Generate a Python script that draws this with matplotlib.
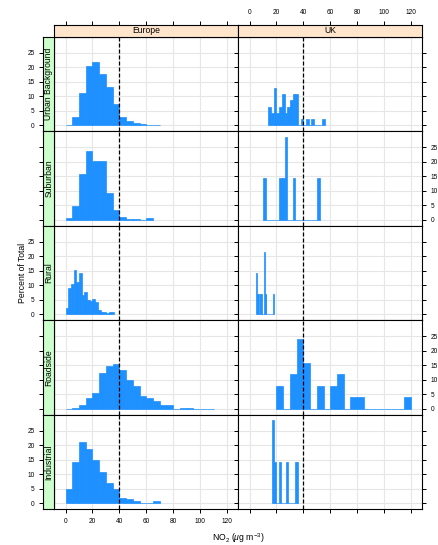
import numpy as np
import matplotlib
matplotlib.use("Agg")
import matplotlib.pyplot as plt

plt.rcParams['font.family'] = ['Liberation Sans', 'DejaVu Sans']
plt.rcParams['mathtext.fontset'] = 'custom'
plt.rcParams['mathtext.rm'] = 'Liberation Sans'
plt.rcParams['mathtext.it'] = 'Liberation Sans:italic'

regions = ["Europe", "UK"]
site_types = ["Urban Background", "Suburban", "Rural", "Roadside", "Industrial"]

x_ticks = [0, 20, 40, 60, 80, 100, 120]
y_ticks = [0, 5, 10, 15, 20, 25]
limit_value = 40

# each histogram: first break, bin width, percent of total per bin
eu_urban_bins = (0, 5)
eu_urban_pct = [0.3, 2.9, 11.1, 20.4, 21.8, 17.7, 13.2, 7.3, 2.9, 1.4, 0.8, 0.5, 0.2, 0.2]
uk_urban_bins = (14, 2)
uk_urban_pct = [6.5, 4.3, 13.0, 4.3, 6.5, 10.9, 4.3, 6.5, 8.7, 10.9, 10.9,
                0, 2.2, 0, 2.2, 0, 2.2, 0, 0, 0, 2.2]

eu_suburban_bins = (0, 5)
eu_suburban_pct = [0.5, 4.7, 15.8, 23.9, 20.4, 20.4, 9.4, 3.3, 0.9, 0.2, 0.2, 0.0, 0.6]
uk_suburban_bins = (10, 2)
uk_suburban_pct = [14.3, 0, 0, 0, 0, 0, 14.3, 14.3, 28.6, 0, 0, 14.3,
                   0, 0, 0, 0, 0, 0, 0, 0, 14.3]

eu_rural_bins = (0, 2)
eu_rural_pct = [2.3, 9.2, 10.6, 15.4, 11.3, 14.2, 6.8, 7.9, 5.0, 4.5, 5.4, 4.2,
                1.4, 0.8, 1.0, 0.5, 0.9, 0.9]
uk_rural_bins = (5, 0.5)
uk_rural_pct = [14.3, 7.1, 7.1, 7.1, 0, 7.1, 7.1, 7.1, 0, 0, 0, 0, 21.4, 7.1,
                7.1, 0, 0, 0, 0, 0, 0, 0, 0, 0, 0, 7.1]

eu_roadside_bins = (0, 5)
eu_roadside_pct = [0.1, 0.2, 1.4, 3.9, 5.6, 12.4, 14.8, 15.5, 13.4, 9.9, 8.0,
                   4.6, 3.9, 2.6, 1.4, 1.4, 0.1, 0.4, 0.4, 0.1, 0.1, 0.1]
uk_roadside_bins = (20, 5)
uk_roadside_pct = [8, 0, 12, 24, 16, 0, 8, 0, 8, 12, 0, 4, 4, 0, 0, 0, 0, 0, 0, 4]

eu_industrial_bins = (0, 5)
eu_industrial_pct = [4.8, 14.4, 21.3, 18.6, 15.1, 11.0, 6.9, 5.0, 1.7, 1.4, 0.7, 0, 0, 0.7]
uk_industrial_bins = (16.8, 1.3)
uk_industrial_pct = [28.6, 14.3, 0, 0, 14.3, 0, 0, 0, 14.3, 0, 0, 0, 0, 14.3, 14.3]

panels = {
    ("Urban Background", "Europe"): (eu_urban_bins, eu_urban_pct),
    ("Urban Background", "UK"): (uk_urban_bins, uk_urban_pct),
    ("Suburban", "Europe"): (eu_suburban_bins, eu_suburban_pct),
    ("Suburban", "UK"): (uk_suburban_bins, uk_suburban_pct),
    ("Rural", "Europe"): (eu_rural_bins, eu_rural_pct),
    ("Rural", "UK"): (uk_rural_bins, uk_rural_pct),
    ("Roadside", "Europe"): (eu_roadside_bins, eu_roadside_pct),
    ("Roadside", "UK"): (uk_roadside_bins, uk_roadside_pct),
    ("Industrial", "Europe"): (eu_industrial_bins, eu_industrial_pct),
    ("Industrial", "UK"): (uk_industrial_bins, uk_industrial_pct),
}

bar_col = "#1E90FF"
grid_col = "#E6E6E6"
top_strip_col = "#FFE5CC"
side_strip_col = "#CCFFCC"
xlim = (-8.4, 128.4)
ylim = (-2.0, 30.6)
tick_size = 4.7
label_size = 6.2

W, H = 439, 545
fig = plt.figure(figsize=(W / 100, H / 100), dpi=100)


def rect(x0, y0, x1, y1):
    # pixel box (top-left origin) -> figure fraction
    return [x0 / W, 1 - y1 / H, (x1 - x0) / W, (y1 - y0) / H]


col_edges = [54.3, 238.3, 422.3]
row_edges = [36.7 + 94.5 * i for i in range(6)]
tick_kw = dict(direction="out", length=3.2, width=0.7, pad=3, labelsize=tick_size)

for r, site in enumerate(site_types):
    for c, region in enumerate(regions):
        ax = fig.add_axes(rect(col_edges[c], row_edges[r], col_edges[c + 1], row_edges[r + 1]))
        (start, width), pct = panels[(site, region)]
        edges = start + width * np.arange(len(pct))
        ax.bar(edges, pct, width=width, align="edge", color=bar_col,
               edgecolor=bar_col, linewidth=0.5, zorder=2)
        ax.axvline(limit_value, color="black", lw=0.9, ls=(0, (3.2, 1.6)), zorder=3)
        ax.set_xlim(xlim)
        ax.set_ylim(ylim)
        ax.set_xticks(x_ticks)
        ax.set_yticks(y_ticks)
        ax.grid(color=grid_col, lw=0.8, zorder=0)
        ax.set_axisbelow(True)
        for sp in ax.spines.values():
            sp.set_linewidth(0.8)
        ax.tick_params(axis="both", length=0, labelleft=False, labelbottom=False)
        if c == 1:
            ax.tick_params(axis="y", right=True, **tick_kw)
            ax.tick_params(axis="y", labelright=(r % 2 == 1))
        if r == len(site_types) - 1:
            ax.tick_params(axis="x", bottom=True, **tick_kw)
            ax.tick_params(axis="x", labelbottom=(c == 0))

        # region strip above the top row
        if r == 0:
            sx = fig.add_axes(rect(col_edges[c], 25, col_edges[c + 1], row_edges[0]))
            sx.set_facecolor(top_strip_col)
            sx.set_xlim(xlim)
            sx.set_ylim(0, 1)
            sx.set_xticks(x_ticks)
            sx.set_yticks([])
            sx.tick_params(axis="x", bottom=False, labelbottom=False, top=True, **tick_kw)
            sx.tick_params(axis="x", labeltop=(c == 1))
            for sp in sx.spines.values():
                sp.set_linewidth(0.8)
            sx.text(0.5, 0.5, region, transform=sx.transAxes, ha="center",
                    va="center", fontsize=label_size)

        # site type strip left of the first column
        if c == 0:
            sy = fig.add_axes(rect(43.3, row_edges[r], col_edges[0], row_edges[r + 1]))
            sy.set_facecolor(side_strip_col)
            sy.set_ylim(ylim)
            sy.set_xlim(0, 1)
            sy.set_yticks(y_ticks)
            sy.set_xticks([])
            sy.tick_params(axis="y", left=True, **tick_kw)
            sy.tick_params(axis="y", labelleft=(r % 2 == 0))
            for sp in sy.spines.values():
                sp.set_linewidth(0.8)
            sy.text(0.5, 0.5, site, transform=sy.transAxes, ha="center",
                    va="center", rotation=90, fontsize=label_size)

fig.text(22.8 / W, 1 - 273 / H, "Percent of Total", rotation=90,
         ha="center", va="center", fontsize=label_size)
fig.text(238.3 / W, 1 - 538 / H, r"NO$_2$ ($\mu$g m$^{-3}$)",
         ha="center", va="center", fontsize=label_size)

fig.savefig("out.png", dpi=100)
